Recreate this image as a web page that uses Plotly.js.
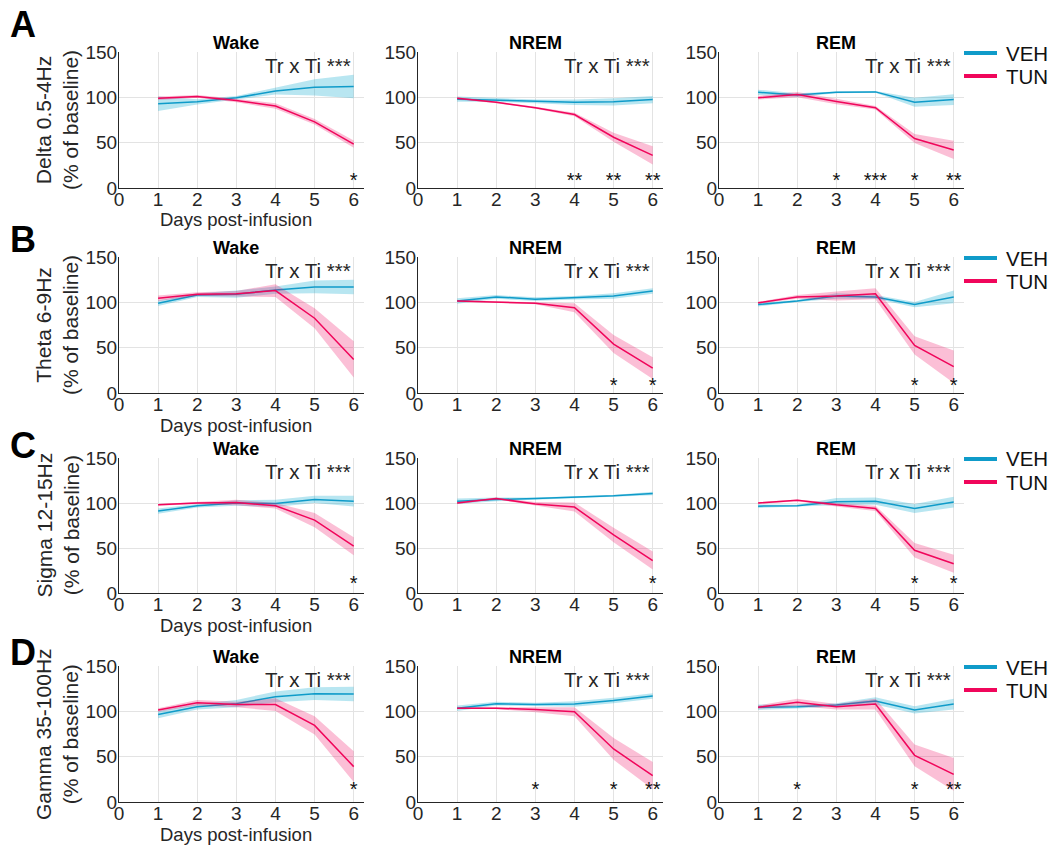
<!DOCTYPE html>
<html>
<head>
<meta charset="utf-8">
<script src="https://cdn.plot.ly/plotly-3.0.1.min.js"></script>
<style>html,body{margin:0;padding:0;background:#fff;}#chart{width:1054px;height:846px;}</style>
</head>
<body>
<div id="chart"></div>
<script>
// ---------- DATA ----------
const days = [1, 2, 3, 4, 5, 6];
const bandLabels = ['Delta 0.5-4Hz', 'Theta 6-9Hz', 'Sigma 12-15Hz', 'Gamma 35-100Hz'];
const panelLetters = ['A', 'B', 'C', 'D'];
const stateLabels = ['Wake', 'NREM', 'REM'];
const groupLabels = ['VEH', 'TUN'];
const interactionLabel = 'Tr x Ti ***';
const xAxisLabel = 'Days post-infusion';

// Delta
const deltaWakeVeh = [93, 95, 99.5, 107, 111, 112];
const deltaWakeVehSem = [8, 3, 2, 4, 9, 13];
const deltaWakeTun = [99, 101, 96.5, 90.5, 73, 48.5];
const deltaWakeTunSem = [2, 1.5, 2, 3, 3, 4];
const deltaNremVeh = [98, 97, 95.5, 94.5, 95, 97.5];
const deltaNremVehSem = [3, 2, 2, 3, 4, 4];
const deltaNremTun = [99, 94.5, 88.5, 81, 56, 36];
const deltaNremTunSem = [1, 1, 1, 2, 5, 10];
const deltaRemVeh = [105.5, 102.5, 105.5, 106, 94.5, 97.5];
const deltaRemVehSem = [3, 2, 1, 1, 5, 6];
const deltaRemTun = [99.5, 103, 95.5, 88.5, 54.5, 42];
const deltaRemTunSem = [2, 3, 3, 2, 5, 10];

// Theta
const thetaWakeVeh = [99, 108, 109, 113.5, 117, 117];
const thetaWakeVehSem = [3, 2, 4, 4, 7, 8];
const thetaWakeTun = [104.5, 109, 109.5, 113, 82.5, 37];
const thetaWakeTunSem = [3, 2, 3, 7, 11, 20];
const thetaNremVeh = [101.5, 106, 103.5, 105, 107, 112.5];
const thetaNremVehSem = [3, 2, 2, 2, 3, 3];
const thetaNremTun = [101.5, 100.5, 99, 94, 54, 27.5];
const thetaNremTunSem = [1, 1, 1, 5, 10, 12];
const thetaRemVeh = [97.5, 101.5, 107, 106, 97.5, 106];
const thetaRemVehSem = [2, 1, 3, 2, 3, 7];
const thetaRemTun = [99.5, 106, 107, 109.5, 52.5, 29];
const thetaRemTunSem = [1, 2, 5, 6, 10, 18];

// Sigma
const sigmaWakeVeh = [91, 97, 100, 99.5, 104, 102];
const sigmaWakeVehSem = [3, 2, 3, 4, 4, 6];
const sigmaWakeTun = [98, 100, 100.5, 97, 81, 52];
const sigmaWakeTunSem = [1, 1, 3, 3, 8, 10];
const sigmaNremVeh = [102, 104, 105, 106.5, 108, 110.5];
const sigmaNremVehSem = [3, 2, 1, 1, 1, 2];
const sigmaNremTun = [100, 105, 99, 95.5, 64.5, 36];
const sigmaNremTunSem = [1, 1, 2, 5, 8, 10];
const sigmaRemVeh = [96.5, 97, 101.5, 102, 94, 101];
const sigmaRemVehSem = [2, 1, 4, 4, 5, 6];
const sigmaRemTun = [100, 103, 98, 94, 47.5, 32.5];
const sigmaRemTunSem = [1, 1, 2, 3, 8, 10];

// Gamma
const gammaWakeVeh = [96.5, 105, 108.5, 116, 119.5, 119];
const gammaWakeVehSem = [4, 3, 4, 6, 7, 8];
const gammaWakeTun = [101.5, 109.5, 107.5, 107.5, 84.5, 39];
const gammaWakeTunSem = [2, 3, 3, 7, 10, 17];
const gammaNremVeh = [103.5, 108.5, 107.5, 108, 112, 117];
const gammaNremVehSem = [3, 2, 2, 3, 3, 3];
const gammaNremTun = [103.5, 103.5, 102, 99.5, 58.5, 29];
const gammaNremTunSem = [1, 1, 3, 5, 12, 15];
const gammaRemVeh = [104.5, 105, 107, 111.5, 101.5, 108];
const gammaRemVehSem = [3, 2, 2, 4, 4, 6];
const gammaRemTun = [104.5, 110, 105, 108, 51.5, 30.5];
const gammaRemTunSem = [2, 4, 3, 6, 12, 18];

// Post-hoc significance markers per day
const deltaWakeStars = ['', '', '', '', '', '*'];
const deltaNremStars = ['', '', '', '**', '**', '**'];
const deltaRemStars  = ['', '', '*', '***', '*', '**'];
const thetaWakeStars = ['', '', '', '', '', ''];
const thetaNremStars = ['', '', '', '', '*', '*'];
const thetaRemStars  = ['', '', '', '', '*', '*'];
const sigmaWakeStars = ['', '', '', '', '', '*'];
const sigmaNremStars = ['', '', '', '', '', '*'];
const sigmaRemStars  = ['', '', '', '', '*', '*'];
const gammaWakeStars = ['', '', '', '', '', '*'];
const gammaNremStars = ['', '', '*', '', '*', '**'];
const gammaRemStars  = ['', '*', '', '', '*', '**'];
const starLevel = [7, 7, 9, 12];

// ---------- ASSEMBLY ----------
const panels = [
  [[deltaWakeVeh, deltaWakeVehSem, deltaWakeTun, deltaWakeTunSem, deltaWakeStars],
   [deltaNremVeh, deltaNremVehSem, deltaNremTun, deltaNremTunSem, deltaNremStars],
   [deltaRemVeh, deltaRemVehSem, deltaRemTun, deltaRemTunSem, deltaRemStars]],
  [[thetaWakeVeh, thetaWakeVehSem, thetaWakeTun, thetaWakeTunSem, thetaWakeStars],
   [thetaNremVeh, thetaNremVehSem, thetaNremTun, thetaNremTunSem, thetaNremStars],
   [thetaRemVeh, thetaRemVehSem, thetaRemTun, thetaRemTunSem, thetaRemStars]],
  [[sigmaWakeVeh, sigmaWakeVehSem, sigmaWakeTun, sigmaWakeTunSem, sigmaWakeStars],
   [sigmaNremVeh, sigmaNremVehSem, sigmaNremTun, sigmaNremTunSem, sigmaNremStars],
   [sigmaRemVeh, sigmaRemVehSem, sigmaRemTun, sigmaRemTunSem, sigmaRemStars]],
  [[gammaWakeVeh, gammaWakeVehSem, gammaWakeTun, gammaWakeTunSem, gammaWakeStars],
   [gammaNremVeh, gammaNremVehSem, gammaNremTun, gammaNremTunSem, gammaNremStars],
   [gammaRemVeh, gammaRemVehSem, gammaRemTun, gammaRemTunSem, gammaRemStars]]
];

const W = 1054, H = 846;
const FONT = 'Liberation Sans, Arial, Helvetica, sans-serif';
const TXT = '#262626';
const VEH_C = '#0f9bc9', TUN_C = '#f0065b';
const VEH_F = 'rgba(0,165,205,0.28)', TUN_F = 'rgba(240,0,90,0.25)';
const colPx = [[119, 363.5], [418, 662.5], [719, 963.5]];
const rowPx = [[52, 188], [257, 393], [458, 593], [666, 802]];
const letterY = [25, 240, 445, 652];
const px = v => v / W;
const py = v => 1 - v / H;

const traces = [];
const layout = {
  width: W, height: H,
  margin: {l: 0, r: 0, t: 0, b: 0},
  paper_bgcolor: '#fff', plot_bgcolor: '#fff',
  showlegend: false,
  font: {family: FONT, color: TXT},
  annotations: [], shapes: []
};

function band(mean, sem) {
  const up = mean.map((m, k) => m + sem[k]);
  const lo = mean.map((m, k) => m - sem[k]);
  return {x: days.concat(days.slice().reverse()), y: up.concat(lo.slice().reverse())};
}

for (let r = 0; r < 4; r++) {
  for (let c = 0; c < 3; c++) {
    const i = r * 3 + c + 1;
    const xa = 'x' + (i === 1 ? '' : i), ya = 'y' + (i === 1 ? '' : i);
    const [veh, vehSem, tun, tunSem, stars] = panels[r][c];

    const bv = band(veh, vehSem), bt = band(tun, tunSem);
    traces.push({x: bv.x, y: bv.y, xaxis: xa, yaxis: ya, type: 'scatter', mode: 'lines',
      fill: 'toself', fillcolor: VEH_F, line: {width: 0, color: 'rgba(0,0,0,0)'}, hoverinfo: 'skip'});
    traces.push({x: days, y: veh, xaxis: xa, yaxis: ya, type: 'scatter', mode: 'lines',
      line: {color: VEH_C, width: 1.5}, name: groupLabels[0]});
    traces.push({x: bt.x, y: bt.y, xaxis: xa, yaxis: ya, type: 'scatter', mode: 'lines',
      fill: 'toself', fillcolor: TUN_F, line: {width: 0, color: 'rgba(0,0,0,0)'}, hoverinfo: 'skip'});
    traces.push({x: days, y: tun, xaxis: xa, yaxis: ya, type: 'scatter', mode: 'lines',
      line: {color: TUN_C, width: 1.5}, name: groupLabels[1]});
    traces.push({x: days, y: days.map(() => starLevel[r]), text: stars, xaxis: xa, yaxis: ya,
      type: 'scatter', mode: 'text', textposition: 'middle center',
      textfont: {family: FONT, size: 20, color: '#111'}, hoverinfo: 'skip'});

    const axBase = {
      showgrid: true, gridcolor: '#e3e3e3', gridwidth: 1,
      showline: true, linecolor: '#262626', linewidth: 1,
      zeroline: false, ticks: '', fixedrange: true,
      tickfont: {family: FONT, size: 19, color: TXT}
    };
    layout['xaxis' + (i === 1 ? '' : i)] = Object.assign({}, axBase, {
      domain: [px(colPx[c][0]), px(colPx[c][1])], range: [0, 6.25],
      tick0: 0, dtick: 1, anchor: ya, ticklabelstandoff: -6
    });
    layout['yaxis' + (i === 1 ? '' : i)] = Object.assign({}, axBase, {
      domain: [py(rowPx[r][1]), py(rowPx[r][0])], range: [0, 150],
      tick0: 0, dtick: 50, anchor: xa, ticklabelstandoff: -3
    });

    // subplot title
    layout.annotations.push({text: '<b>' + stateLabels[c] + '</b>', xref: xa, yref: 'paper',
      x: 3, y: py(rowPx[r][0] - 9), xanchor: 'center', yanchor: 'middle', showarrow: false,
      font: {family: FONT, size: 18, color: '#000'}});
    // interaction label
    layout.annotations.push({text: interactionLabel, xref: xa, yref: ya, x: 5.99, y: 135,
      xanchor: 'right', yanchor: 'middle', showarrow: false,
      font: {family: FONT, size: 20.5, color: TXT}});
    if (c === 0) {
      layout.annotations.push({text: xAxisLabel, xref: xa, yref: 'paper', x: 3,
        y: py(rowPx[r][1] + 32), xanchor: 'center', yanchor: 'middle', showarrow: false,
        font: {family: FONT, size: 18.5, color: TXT}});
    }
  }
  // y title
  layout.annotations.push({text: bandLabels[r] + '<br>(% of baseline)', xref: 'paper', yref: 'paper',
    x: px(57), y: py((rowPx[r][0] + rowPx[r][1]) / 2), xanchor: 'center', yanchor: 'middle',
    textangle: -90, showarrow: false, font: {family: FONT, size: 21, color: TXT}});
  // panel letter
  layout.annotations.push({text: '<b>' + panelLetters[r] + '</b>', xref: 'paper', yref: 'paper',
    x: px(8), y: py(letterY[r]), xanchor: 'left', yanchor: 'middle', showarrow: false,
    font: {family: FONT, size: 36, color: '#000'}});
  // legend
  const top = rowPx[r][0];
  [[VEH_C, groupLabels[0], top + 1], [TUN_C, groupLabels[1], top + 24]].forEach(([col, lab, yy]) => {
    layout.shapes.push({type: 'line', xref: 'paper', yref: 'paper', x0: px(964), x1: px(997),
      y0: py(yy), y1: py(yy), line: {color: col, width: 4}});
    layout.annotations.push({text: lab, xref: 'paper', yref: 'paper', x: px(1004), y: py(yy),
      xanchor: 'left', yanchor: 'middle', showarrow: false,
      font: {family: FONT, size: 20.5, color: '#111'}});
  });
}

Plotly.newPlot('chart', traces, layout, {staticPlot: true, displayModeBar: false});
</script>
</body>
</html>
